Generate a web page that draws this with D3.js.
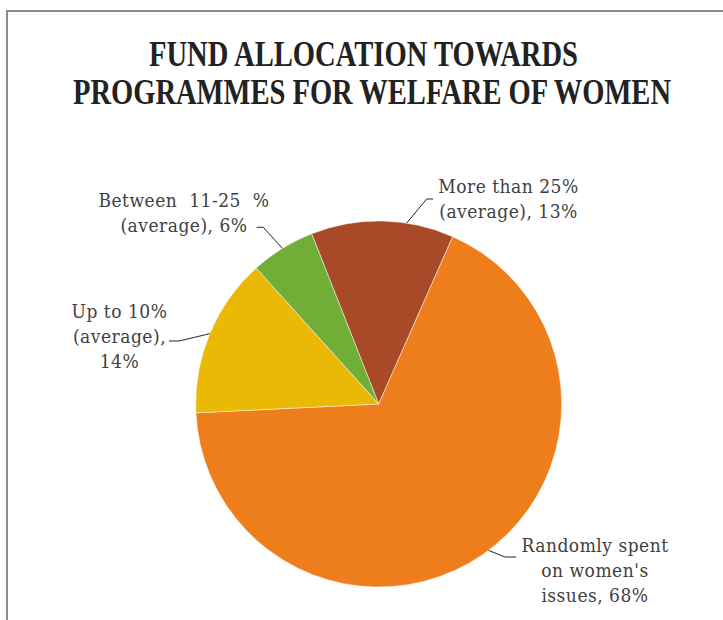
<!DOCTYPE html>
<html>
<head>
<meta charset="utf-8">
<script src="https://cdn.jsdelivr.net/npm/d3@7"></script>
<style>
  html, body { margin: 0; padding: 0; background: #fff; }
  svg { display: block; }
</style>
</head>
<body>
<svg id="chart" width="723" height="620"></svg>
<script>
// ---- data ----
const categories = [
  "More than 25% (average)",
  "Randomly spent on women's issues",
  "Up to 10% (average)",
  "Between 11-25 % (average)"
];
const values = [12.6, 67.6, 14.1, 5.7];
const labelLines = [
  ["More than 25%", "(average), 13%"],
  ["Randomly spent", "on women's", "issues, 68%"],
  ["Up to 10%", "(average),", "14%"],
  ["Between  11-25  %", "(average), 6%"]
];
const colors = ["#A84A28", "#EE7E1C", "#EAB906", "#70AE37"];
const titleLines = ["FUND ALLOCATION TOWARDS", "PROGRAMMES FOR WELFARE OF WOMEN"];

// ---- layout ----
const W = 723, H = 620;
const cx = 378.7, cy = 404, R = 183;
const startDeg = -21.5;
const svg = d3.select("#chart");

// frame
svg.append("rect").attr("x", 7).attr("y", 11).attr("width", 740).attr("height", 640)
  .attr("fill", "none").attr("stroke", "#8c8c8c").attr("stroke-width", 2);

// title
const titleSpecs = [{y: 66, len: 429, cx: 363.5}, {y: 104, len: 598, cx: 372}];
titleLines.forEach((t, i) => {
  svg.append("text")
    .attr("x", titleSpecs[i].cx).attr("y", titleSpecs[i].y)
    .attr("text-anchor", "middle")
    .attr("font-family", "'Liberation Serif', 'DejaVu Serif', serif")
    .attr("font-weight", "bold")
    .attr("font-size", 35)
    .attr("fill", "#222222")
    .attr("textLength", titleSpecs[i].len)
    .attr("lengthAdjust", "spacingAndGlyphs")
    .text(t);
});

// pie
const pie = d3.pie().sort(null).value(d => d)
  .startAngle(startDeg * Math.PI / 180)
  .endAngle((startDeg + 360) * Math.PI / 180);
const arcs = pie(values);
const arc = d3.arc().innerRadius(0).outerRadius(R);
const g = svg.append("g").attr("transform", `translate(${cx},${cy})`);
g.selectAll("path").data(arcs).join("path")
  .attr("d", arc)
  .attr("fill", (d, i) => colors[i])
  .attr("stroke", "#ffffff")
  .attr("stroke-opacity", 0.6)
  .attr("stroke-width", 0.8);

// labels with leader lines
const leaderFrac = [0.667, 0.49, 0.5, 0.5];
const labelPos = [
  {x: 508.5, y: 192.7, ex: 433, bend: 426.7, by: 199},
  {x: 595,   y: 551.7, ex: 516, bend: 505,   by: 557},
  {x: 119.5, y: 317.7, ex: 169, bend: 179,   by: 341},
  {x: 184,   y: 206.7, ex: 256.7, bend: 263.3, by: 227.3}
];
const lineH = 25.3;
arcs.forEach((a, i) => {
  const ang = a.startAngle + (a.endAngle - a.startAngle) * leaderFrac[i];
  const px = cx + R * Math.sin(ang), py = cy - R * Math.cos(ang);
  const p = labelPos[i];
  svg.append("path")
    .attr("d", `M${p.ex},${p.by}L${p.bend},${p.by}L${px},${py}`)
    .attr("fill", "none").attr("stroke", "#262626").attr("stroke-width", 1);
  const t = svg.append("text")
    .attr("text-anchor", "middle")
    .attr("font-family", "'DejaVu Serif Condensed', 'DejaVu Serif', serif")
    .attr("font-stretch", "condensed")
    .attr("font-size", 19)
    .attr("letter-spacing", 0.5)
    .attr("fill", "#404040")
    .attr("xml:space", "preserve");
  labelLines[i].forEach((ln, k) => {
    t.append("tspan").attr("x", p.x).attr("y", p.y + k * lineH).text(ln);
  });
});
</script>
</body>
</html>
